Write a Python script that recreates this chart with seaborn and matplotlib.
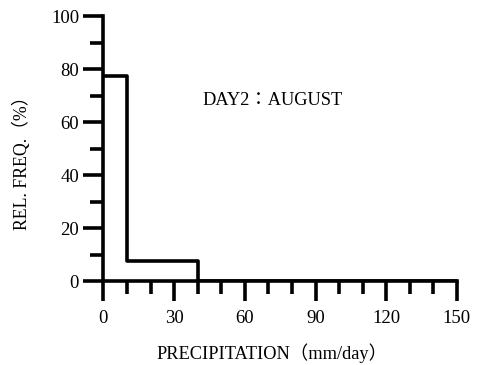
import numpy as np
import pandas as pd
import seaborn as sns
import matplotlib.pyplot as plt
from matplotlib.ticker import MultipleLocator

# Relative frequency (%) of daily precipitation, 10 mm/day bins
bin_edges = [0, 10, 20, 30, 40, 50, 60, 70, 80, 90, 100, 110, 120, 130, 140, 150]
rel_freq = [77.5, 7.5, 7.5, 7.5, 0, 0, 0, 0, 0, 0, 0, 0, 0, 0, 0]
x_ticks = [0, 30, 60, 90, 120, 150]
y_ticks = [0, 20, 40, 60, 80, 100]
panel_title = "DAY2\uff1aAUGUST"
x_label = "PRECIPITATION\uff08mm/day\uff09"
y_label = "REL. FREQ.\uff08%\uff09"

sns.set_theme(style="ticks")
fam = ["Liberation Serif", "Noto Sans CJK JP", "DejaVu Serif"]
plt.rcParams["font.family"] = fam

centers = [(a + b) / 2 for a, b in zip(bin_edges[:-1], bin_edges[1:])]
df = pd.DataFrame({"precip": centers, "freq": rel_freq})

fig = plt.figure(figsize=(4.81, 3.65), dpi=100)
ax = fig.add_axes([0.215, 0.230, 0.735, 0.726])

sns.histplot(data=df, x="precip", weights="freq", bins=bin_edges,
             element="step", fill=False, color="black", linewidth=2.6, ax=ax)

ax.set_xlim(0, 150)
ax.set_ylim(0, 100)
sns.despine(ax=ax)
for side in ("left", "bottom"):
    ax.spines[side].set_linewidth(2.6)
    ax.spines[side].set_color("black")

ax.set_xticks(x_ticks)
ax.set_yticks(y_ticks)
ax.xaxis.set_minor_locator(MultipleLocator(10))
ax.yaxis.set_minor_locator(MultipleLocator(10))
ax.tick_params(axis="both", which="major", direction="out", width=2.6,
               length=14.5, color="black", labelsize=13.5, labelcolor="black")
ax.tick_params(axis="both", which="minor", direction="out", width=2.6,
               length=9.5, color="black")
ax.tick_params(axis="x", which="major", pad=6)
ax.tick_params(axis="y", which="major", pad=3)

ax.set_xlabel(x_label, fontsize=13.2, color="black")
ax.set_ylabel(y_label, fontsize=12.8, color="black")
ax.yaxis.label.set_verticalalignment("center")
ax.xaxis.set_label_coords(0.478, -0.235)
ax.yaxis.set_label_coords(-0.2306, 0.46)

ax.text(42, 68, panel_title, ha="left", va="center", fontsize=13.2, color="black")

fig.savefig("out.png", dpi=100, facecolor="white")
